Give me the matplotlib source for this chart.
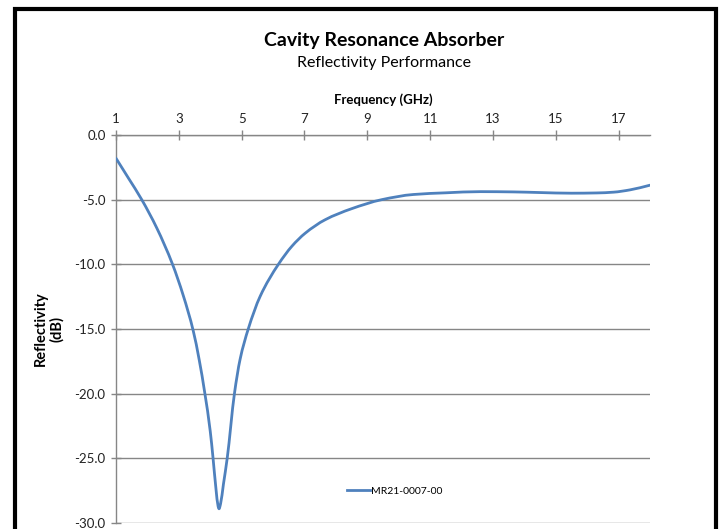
import matplotlib.pyplot as plt
from matplotlib.patches import Rectangle, PathPatch
from matplotlib.path import Path
from matplotlib.lines import Line2D

plt.rcParams['font.family'] = ['Lato', 'DejaVu Sans']

# values
freq_ghz = [1.0, 1.4, 1.82, 2.3, 2.8, 3.14, 3.46, 3.65, 3.83, 4.0, 4.09, 4.18,
            4.25, 4.28, 4.33, 4.42, 4.54, 4.77, 4.95, 5.21, 5.59, 6.17, 6.6,
            7.02, 7.66, 8.5, 9.46, 10.47, 11.5, 12.6, 13.65, 14.5, 15.5,
            16.3, 16.84, 17.37, 18.0]
reflectivity_db = [-1.8, -3.35, -5.0, -7.2, -10.0, -12.4, -15.15, -17.4, -20.0,
                   -22.9, -25.0, -27.3, -28.7, -28.9, -28.5, -27.0, -25.0,
                   -20.0, -17.35, -15.0, -12.47, -10.0, -8.6, -7.6, -6.55,
                   -5.7, -5.0, -4.6, -4.47, -4.38, -4.4, -4.45, -4.5, -4.48,
                   -4.42, -4.24, -3.88]
x_ticks = [1, 3, 5, 7, 9, 11, 13, 15, 17]
y_ticks = [0, -5, -10, -15, -20, -25, -30]
series_name = 'MR21-0007-00'

grey = '#868686'
blue = '#4F81BD'


def smooth_path(xs, ys):
    # smoothed line like Excel's: monotone cubic segments drawn as Beziers
    n = len(xs)
    h = [xs[i + 1] - xs[i] for i in range(n - 1)]
    d = [(ys[i + 1] - ys[i]) / h[i] for i in range(n - 1)]
    m = [d[0]] + [0.0] * (n - 2) + [d[-1]]
    for i in range(1, n - 1):
        if d[i - 1] * d[i] > 0:
            w1 = 2 * h[i] + h[i - 1]
            w2 = h[i] + 2 * h[i - 1]
            m[i] = (w1 + w2) / (w1 / d[i - 1] + w2 / d[i])
    verts = [(xs[0], ys[0])]
    codes = [Path.MOVETO]
    for i in range(n - 1):
        verts += [(xs[i] + h[i] / 3, ys[i] + m[i] * h[i] / 3),
                  (xs[i + 1] - h[i] / 3, ys[i + 1] - m[i + 1] * h[i] / 3),
                  (xs[i + 1], ys[i + 1])]
        codes += [Path.CURVE4] * 3
    return Path(verts, codes)


fig = plt.figure(figsize=(7.21, 5.29), dpi=100)
ax = fig.add_axes([116 / 721, 1 - 523 / 529, (650 - 116) / 721, (523 - 135) / 529])

curve = PathPatch(smooth_path(freq_ghz, reflectivity_db), transform=ax.transData,
                  facecolor='none', edgecolor=blue, linewidth=2.0,
                  joinstyle='round', capstyle='round', zorder=3)
ax.add_patch(curve)

ax.set_xlim(1, 18)
ax.set_ylim(-30, 0)
ax.xaxis.tick_top()
ax.xaxis.set_label_position('top')
ax.set_xticks(x_ticks)
ax.set_yticks(y_ticks)
ax.set_yticklabels(['%.1f' % v for v in y_ticks])
ax.tick_params(axis='both', direction='inout', length=7, width=1, color=grey,
               labelsize=9.5, labelcolor='#222222')
ax.tick_params(axis='x', pad=4)
ax.tick_params(axis='y', pad=4)
ax.grid(axis='y', color=grey, linewidth=1)
ax.set_axisbelow(True)
for side in ['right', 'bottom']:
    ax.spines[side].set_visible(False)
for side in ['left', 'top']:
    ax.spines[side].set_color(grey)
    ax.spines[side].set_linewidth(1)

ax.set_xlabel('Frequency (GHz)', fontsize=9.5, fontweight='bold', labelpad=6)

fig.text(384 / 721, 1 - 40 / 529, 'Cavity Resonance Absorber', ha='center',
         va='center', fontsize=14, fontweight='bold')
fig.text(384 / 721, 1 - 63 / 529, 'Reflectivity Performance', ha='center',
         va='center', fontsize=11.5)
fig.text(49 / 721, 1 - 329 / 529, 'Reflectivity\n(dB)', ha='center', va='center',
         rotation=90, fontsize=10.5, fontweight='bold', linespacing=1.1)

handle = Line2D([], [], color=blue, linewidth=2.0)
ax.legend([handle], [series_name], loc='center left',
          bbox_to_anchor=(338 / 721, 1 - 491 / 529),
          bbox_transform=fig.transFigure, frameon=False, fontsize=7.5,
          handlelength=2.2, handletextpad=0.1)

# black frame around the chart (bottom edge is cut off in the reference)
fig.patches.append(Rectangle((14.5 / 721, -0.1), (715.5 - 14.5) / 721,
                             1.1 - 8.5 / 529, transform=fig.transFigure,
                             fill=False, edgecolor='black', linewidth=3))

fig.savefig('out.png', dpi=100)
